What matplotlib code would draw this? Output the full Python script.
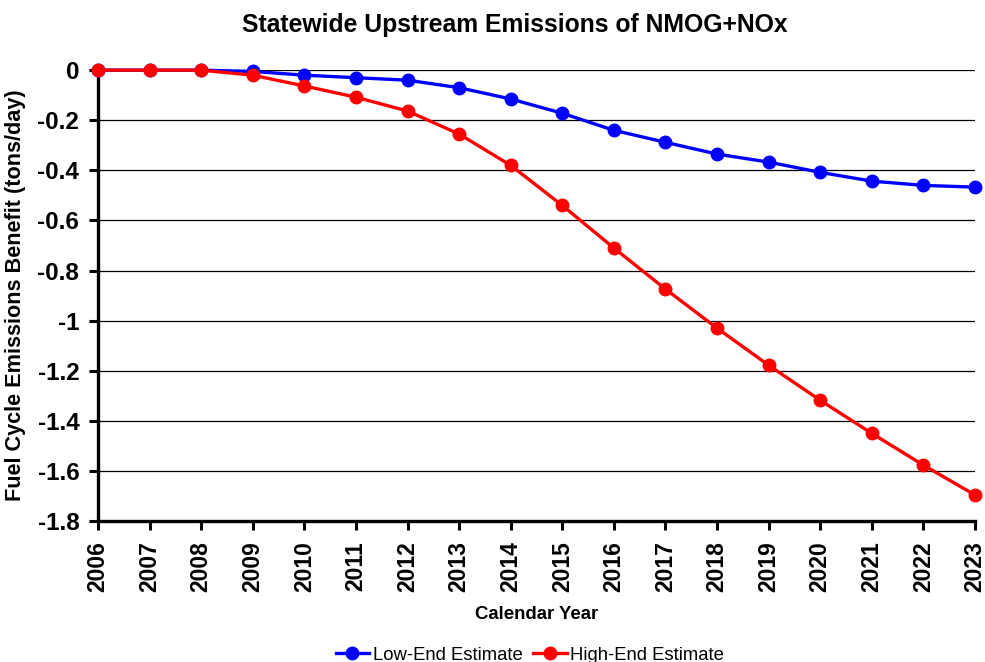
import matplotlib
matplotlib.use("Agg")
import matplotlib.pyplot as plt

years = list(range(2006, 2024))
low_end = [0.0, 0.0, 0.0, -0.005, -0.02, -0.03, -0.04, -0.07, -0.115, -0.172,
           -0.24, -0.288, -0.335, -0.367, -0.408, -0.443, -0.46, -0.467]
high_end = [0.0, 0.0, 0.0, -0.02, -0.063, -0.108, -0.163, -0.255, -0.38, -0.54,
            -0.71, -0.874, -1.03, -1.178, -1.318, -1.45, -1.577, -1.696]
y_ticks = [0, -0.2, -0.4, -0.6, -0.8, -1, -1.2, -1.4, -1.6, -1.8]
y_tick_labels = ["0", "-0.2", "-0.4", "-0.6", "-0.8", "-1", "-1.2", "-1.4", "-1.6", "-1.8"]

plt.rcParams["font.family"] = ["Liberation Sans", "DejaVu Sans"]

fig = plt.figure(figsize=(9.85, 6.62), dpi=100)
ax = fig.add_axes([0.0995, 0.213, 0.8903, 0.681])

for t in y_ticks:
    ax.axhline(t, color="black", linewidth=0.9, zorder=1)

ax.plot(years, low_end, color="#0000ff", linewidth=2.4, marker="o",
        markersize=9, label="Low-End Estimate", zorder=3, clip_on=False)
ax.plot(years, high_end, color="#ff0000", linewidth=2.4, marker="o",
        markersize=9, label="High-End Estimate", zorder=4, clip_on=False)

ax.set_xlim(2006, 2023)
ax.set_ylim(-1.8, 0)
ax.set_xticks(years)
ax.set_xticklabels([str(y) for y in years], rotation=90, fontsize=16.5, fontweight="bold")
ax.set_yticks(y_ticks)
ax.set_yticklabels(y_tick_labels, fontsize=17.5, fontweight="bold")

for side in ["top", "right"]:
    ax.spines[side].set_visible(False)
for side in ["left", "bottom"]:
    ax.spines[side].set_linewidth(2.4)
ax.tick_params(axis="both", direction="out", length=6.5, width=2.2)
ax.tick_params(axis="x", pad=8)
ax.tick_params(axis="y", pad=7)

fig.text(0.523, 0.962, "Statewide Upstream Emissions of NMOG+NOx", fontsize=17.8,
         fontweight="bold", ha="center", va="center")
ax.set_xlabel("Calendar Year", fontsize=13.4, fontweight="bold", labelpad=10)
ax.set_ylabel("Fuel Cycle Emissions Benefit (tons/day)", fontsize=15.6,
              fontweight="bold", labelpad=8)

fig.legend(loc="lower center", bbox_to_anchor=(0.538, -0.028), ncol=2,
           frameon=False, fontsize=13.3, handlelength=1.8, handletextpad=0.2,
           columnspacing=0.6)

fig.savefig("out.png", dpi=100)
